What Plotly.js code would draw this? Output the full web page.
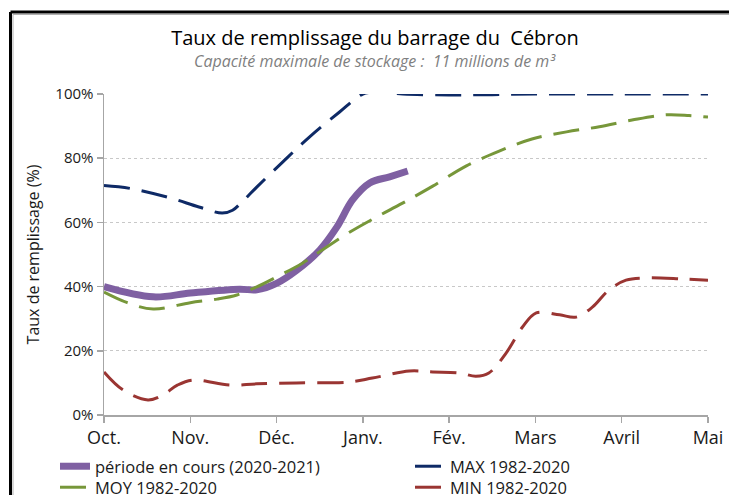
<!DOCTYPE html>
<html>
<head>
<meta charset="utf-8">
<script src="https://cdn.plot.ly/plotly-3.0.1.min.js"></script>
<style>
html,body{margin:0;padding:0;background:#fff;}
#chart{width:729px;height:495px;}
</style>
</head>
<body>
<div id="chart"></div>
<script>
// Month ticks (0 = Oct. ... 7 = Mai)
var monthTicks = [0, 1, 2, 3, 4, 5, 6, 7];
var monthLabels = ["Oct.", "Nov.", "Déc.", "Janv.", "Fév.", "Mars", "Avril", "Mai"];

// Current period 2020-2021
var curX = [0, 0.57, 1.0, 1.57, 1.77, 2.0, 2.23, 2.5, 2.7, 2.88, 3.08, 3.31, 3.52];
var curY = [40, 36.8, 38, 39.2, 39, 41, 45, 51.4, 58.6, 67, 72.3, 74.2, 76];

// MAX 1982-2020
var maxX = [0, 0.3, 0.77, 1.1, 1.37, 1.49, 1.6, 1.77, 2.07, 2.38, 2.73, 3.0, 3.16, 3.46, 4.0, 4.5, 5.0, 6.0, 7.0];
var maxY = [71.5, 70.6, 67.6, 64.8, 62.9, 63.8, 66.4, 71, 78.8, 86.6, 94.4, 100, 100.6, 100, 99.7, 99.8, 100, 100, 100];

// MOY 1982-2020
var moyX = [0, 0.27, 0.57, 1.0, 1.31, 1.54, 1.77, 2.0, 2.3, 2.53, 2.85, 3.16, 3.46, 3.81, 4.2, 4.58, 4.96, 5.36, 5.74, 6.12, 6.51, 6.78, 7.0];
var moyY = [38.3, 35, 33, 35, 36.1, 37.4, 39.9, 43, 47.3, 51.4, 57, 61.7, 66, 71.3, 77.6, 82.2, 86, 88.2, 89.8, 91.9, 93.5, 93.3, 92.8];

// MIN 1982-2020
var minX = [0, 0.22, 0.51, 0.68, 0.85, 1.03, 1.46, 1.77, 2.23, 2.85, 3.11, 3.54, 3.81, 4.12, 4.31, 4.46, 4.66, 4.85, 5.01, 5.28, 5.47, 5.66, 5.85, 6.05, 6.28, 6.7, 7.0];
var minY = [13.4, 7.8, 4.7, 6.2, 9.3, 10.9, 9.3, 9.7, 10, 10.3, 11.5, 13.7, 13.4, 13.1, 12.1, 13.1, 19.3, 27.4, 31.8, 31.2, 30.5, 33.6, 38.9, 42, 42.7, 42.4, 42];

var yTicks = [0, 20, 40, 60, 80, 100];
var yLabels = ["0%", "20%", "40%", "60%", "80%", "100%"];

var FONT = "'Open Sans', Lato, sans-serif";
var dashPat = "26px,12px";

var traces = [
  {x: curX, y: curY, name: "période en cours (2020-2021)", mode: "lines", legend: "legend",
   line: {color: "#7F60A2", width: 7, shape: "spline", smoothing: 1}, cliponaxis: false},
  {x: maxX, y: maxY, name: "MAX 1982-2020", mode: "lines", legend: "legend",
   line: {color: "#0E2A66", width: 3, dash: dashPat, shape: "spline", smoothing: 1}, cliponaxis: false},
  {x: moyX, y: moyY, name: "MOY 1982-2020", mode: "lines", legend: "legend2",
   line: {color: "#77973A", width: 3, dash: dashPat, shape: "spline", smoothing: 1}, cliponaxis: false},
  {x: minX, y: minY, name: "MIN 1982-2020", mode: "lines", legend: "legend2",
   line: {color: "#9A3532", width: 3, dash: dashPat, shape: "spline", smoothing: 1}, cliponaxis: false}
];

var L = 104, R = 21, T = 94, B = 80;
var W = 729 - L - R, H = 495 - T - B;
function px2x(p){ return (p - L) / W; }
function px2y(p){ return (495 - B - p) / H; }

function legendAt(topPx) {
  return {
    orientation: "h", x: px2x(55), xanchor: "left", y: px2y(topPx), yanchor: "top",
    entrywidth: 310, entrywidthmode: "pixels",
    font: {family: FONT, size: 16.5, color: "#1a1a1a"},
    bgcolor: "rgba(0,0,0,0)", traceorder: "normal"
  };
}

var layout = {
  width: 729, height: 495,
  margin: {l: L, r: R, t: T, b: B, autoexpand: false},
  paper_bgcolor: "#ffffff", plot_bgcolor: "#ffffff",
  font: {family: FONT, color: "#1a1a1a"},
  title: {
    text: "Taux de remplissage du barrage du  Cébron",
    font: {family: FONT, size: 20, color: "#000"},
    x: 375 / 729, xref: "container", xanchor: "center",
    y: 1 - 38 / 495, yref: "container", yanchor: "middle"
  },
  annotations: [
    {text: "<i>Capacité maximale de stockage :  11 millions de m³</i>",
     xref: "paper", yref: "paper", x: px2x(375), y: px2y(61), xanchor: "center", yanchor: "middle",
     showarrow: false, font: {family: FONT, size: 16, color: "#7f7f7f"}}
  ],
  showlegend: true,
  legend: legendAt(449),
  legend2: legendAt(470),
  xaxis: {
    range: [0, 7], tickvals: monthTicks, ticktext: monthLabels,
    showline: true, linecolor: "#A6A6A6", linewidth: 1.5,
    ticks: "outside", ticklen: 6, tickcolor: "#A6A6A6", tickwidth: 1.5,
    showgrid: false, zeroline: false,
    tickfont: {family: FONT, size: 18, color: "#1a1a1a"}
  },
  yaxis: {
    range: [0, 100], tickvals: yTicks, ticktext: yLabels,
    showline: true, linecolor: "#A6A6A6", linewidth: 1.5,
    ticks: "outside", ticklen: 6, tickcolor: "#A6A6A6", tickwidth: 1.5,
    showgrid: true, gridcolor: "#C8C8C8", gridwidth: 1, griddash: "3px,3px",
    zeroline: false,
    tickfont: {family: FONT, size: 15, color: "#1a1a1a"},
    title: {text: "Taux de remplissage (%)", font: {family: FONT, size: 16, color: "#1a1a1a"}, standoff: 12}
  },
  shapes: [
    {type: "line", xref: "paper", yref: "paper", x0: px2x(10.5), x1: px2x(760), y0: px2y(12), y1: px2y(12), line: {color: "#000", width: 3}},
    {type: "line", xref: "paper", yref: "paper", x0: px2x(10.5), x1: px2x(10.5), y0: px2y(12), y1: px2y(520), line: {color: "#000", width: 3}},
    {type: "line", xref: "paper", yref: "paper", x0: px2x(13), x1: px2x(760), y0: px2y(14.5), y1: px2y(14.5), line: {color: "#B0B0B0", width: 1}},
    {type: "line", xref: "paper", yref: "paper", x0: px2x(13), x1: px2x(13), y0: px2y(14.5), y1: px2y(520), line: {color: "#B0B0B0", width: 1}}
  ]
};

Plotly.newPlot("chart", traces, layout, {displayModeBar: false, staticPlot: true});
</script>
</body>
</html>
